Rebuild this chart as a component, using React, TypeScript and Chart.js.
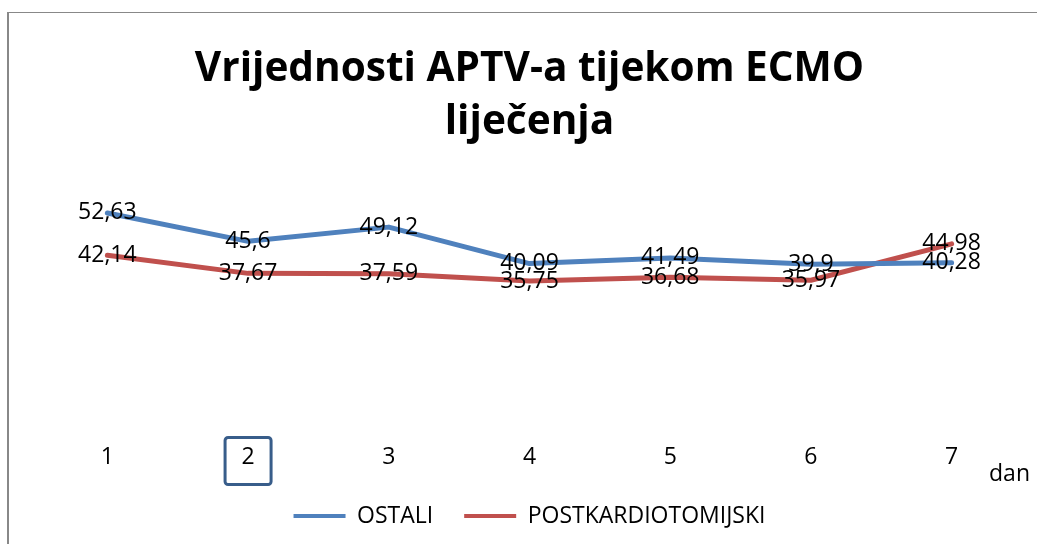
import React, { useEffect, useRef } from 'react';
import { Chart, registerables } from 'chart.js';

Chart.register(...registerables);

const categories = ['1', '2', '3', '4', '5', '6', '7'];
const ostali = [52.63, 45.6, 49.12, 40.09, 41.49, 39.9, 40.28];
const postkardiotomijski = [42.14, 37.67, 37.59, 35.75, 36.68, 35.97, 44.98];
const seriesNames = ['OSTALI', 'POSTKARDIOTOMIJSKI'];
const titleLines = ['Vrijednosti APTV-a tijekom ECMO', 'liječenja'];
const axisTitle = 'dan';
const selectedCategory = '2';

const FONT = "'Open Sans', 'Noto Sans', sans-serif";
const BLUE = '#4F81BD';
const RED = '#C0504D';

const dataLabelsPlugin = {
  id: 'dataLabels',
  afterDatasetsDraw(chart: any) {
    const ctx = chart.ctx;
    ctx.save();
    ctx.font = `23px ${FONT}`;
    ctx.fillStyle = '#000';
    ctx.textAlign = 'center';
    ctx.textBaseline = 'middle';
    chart.data.datasets.forEach((ds: any, i: number) => {
      const meta = chart.getDatasetMeta(i);
      meta.data.forEach((pt: any, j: number) => {
        const v = ds.data[j];
        ctx.fillText(String(v).replace('.', ','), pt.x, pt.y);
      });
    });
    ctx.restore();
  },
};

const extrasPlugin = {
  id: 'extras',
  afterDraw(chart: any) {
    const x = chart.scales.x;
    const ctx = chart.ctx;
    const bottom = chart.chartArea.bottom;
    // axis title at the right end
    ctx.save();
    ctx.font = `23px ${FONT}`;
    ctx.fillStyle = '#000';
    ctx.textAlign = 'right';
    ctx.textBaseline = 'middle';
    ctx.fillText(axisTitle, chart.chartArea.right + 8, bottom + 49);
    ctx.restore();
    // selection box around a category label
    const idx = categories.indexOf(selectedCategory);
    if (idx < 0) return;
    const cx = x.getPixelForValue(idx);
    const top = bottom + 12;
    const w = 46;
    const h = 47;
    ctx.save();
    ctx.strokeStyle = '#385D8A';
    ctx.lineWidth = 3;
    ctx.beginPath();
    if (ctx.roundRect) ctx.roundRect(cx - w / 2, top, w, h, 3);
    else ctx.rect(cx - w / 2, top, w, h);
    ctx.stroke();
    ctx.restore();
  },
};

export default function App() {
  const ref = useRef<HTMLCanvasElement | null>(null);

  useEffect(() => {
    const prevMargin = document.body.style.margin;
    document.body.style.margin = '0';
    const canvas = ref.current;
    if (!canvas) return;
    const chart = new Chart(canvas, {
      type: 'line',
      data: {
        labels: categories,
        datasets: [
          {
            label: seriesNames[0],
            data: ostali,
            borderColor: BLUE,
            backgroundColor: BLUE,
            borderWidth: 5,
            pointRadius: 0,
            tension: 0,
            borderCapStyle: 'round',
            borderJoinStyle: 'round',
          },
          {
            label: seriesNames[1],
            data: postkardiotomijski,
            borderColor: RED,
            backgroundColor: RED,
            borderWidth: 5,
            pointRadius: 0,
            tension: 0,
            borderCapStyle: 'round',
            borderJoinStyle: 'round',
          },
        ],
      },
      options: {
        animation: false,
        responsive: false,
        maintainAspectRatio: false,
        events: [],
        layout: { padding: { top: 0, left: 37, right: 15, bottom: 6.5 } },
        scales: {
          x: {
            offset: true,
            grid: { display: false, drawTicks: false, offset: true },
            border: { display: false },
            ticks: {
              padding: 18,
              color: '#000',
              font: { family: FONT, size: 23 },
              maxRotation: 0,
            },
            afterFit: (scale: any) => {
              scale.height = 48;
            },
          },
          y: {
            display: false,
            min: 0,
            max: 60,
          },
        },
        plugins: {
          title: {
            display: true,
            text: titleLines,
            color: '#000',
            font: { family: FONT, size: 40.6, weight: 'bold', lineHeight: 1.31 },
            padding: { top: 43, bottom: 33.8 },
          },
          legend: {
            display: true,
            position: 'bottom',
            labels: {
              color: '#000',
              font: { family: FONT, size: 23 },
              boxWidth: 52,
              boxHeight: 4,
              padding: 31,
              generateLabels: (c: any) =>
                c.data.datasets.map((ds: any, i: number) => ({
                  text: ds.label,
                  fillStyle: ds.borderColor,
                  strokeStyle: ds.borderColor,
                  lineWidth: 0,
                  hidden: false,
                  datasetIndex: i,
                  fontColor: '#000',
                })),
            },
          },
          tooltip: { enabled: false },
        },
      },
      plugins: [dataLabelsPlugin, extrasPlugin],
    } as any);
    return () => {
      chart.destroy();
      document.body.style.margin = prevMargin;
    };
  }, []);

  return (
    <div style={{ position: 'fixed', left: 0, top: 0, width: 1037, height: 544, background: '#fff', overflow: 'hidden' }}>
      <div
        style={{
          position: 'absolute',
          left: 7,
          top: 12,
          width: 1100,
          height: 600,
          borderLeft: '2px solid #888',
          borderTop: '1px solid #888',
        }}
      />
      <canvas ref={ref} width={1037} height={544} style={{ position: 'absolute', left: 0, top: 0, width: 1037, height: 544 }} />
    </div>
  );
}
